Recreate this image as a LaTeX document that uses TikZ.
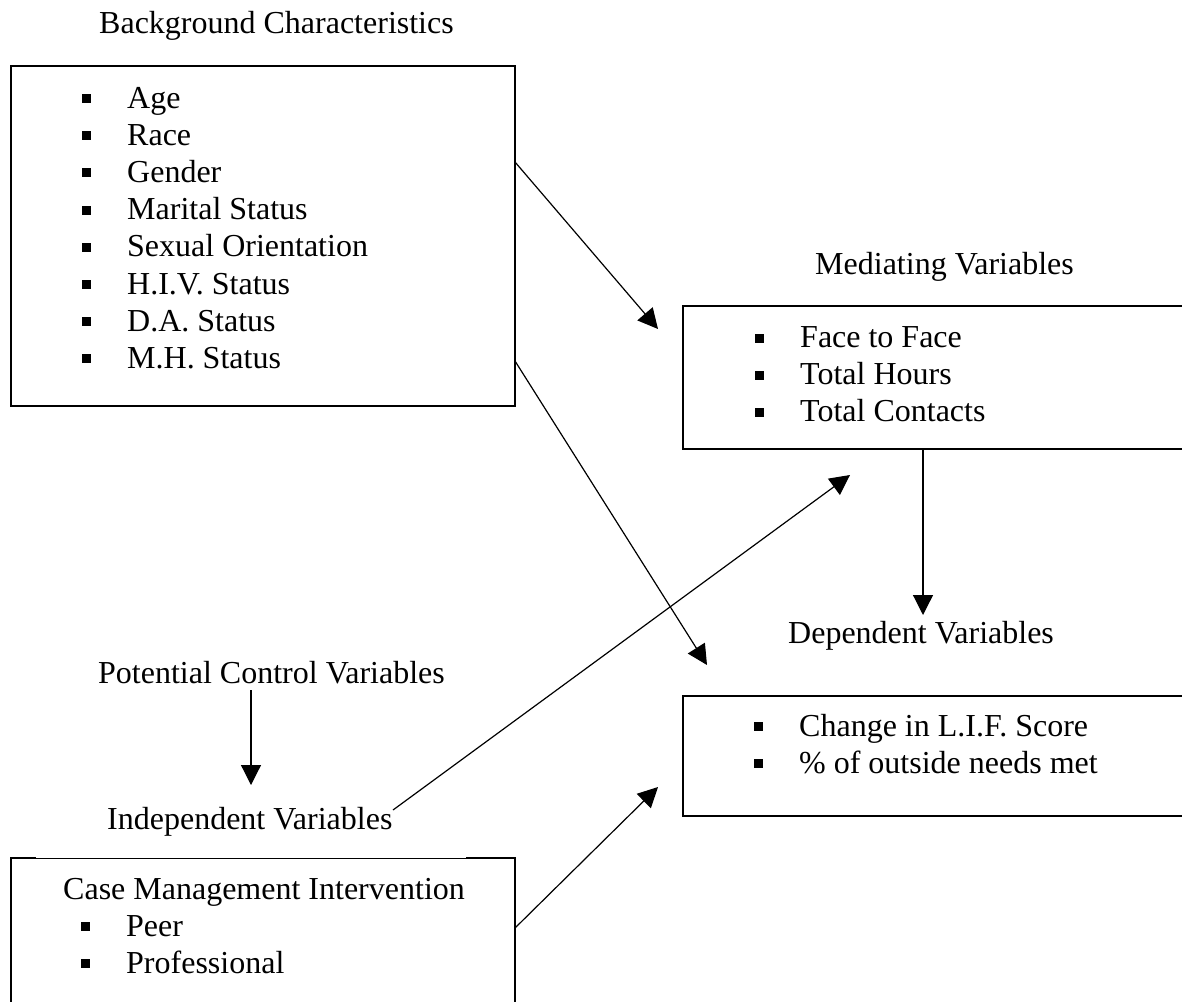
\documentclass[tikz,border=0pt]{standalone}
\usepackage{fontspec}
\setmainfont{Liberation Serif}
\usetikzlibrary{arrows.meta}
\newcommand{\sqb}{\rule[5pt]{9pt}{9pt}}
\newcommand{\itm}[1]{\makebox[45pt][l]{\sqb}#1}
\begin{document}
\begin{tikzpicture}[x=1pt,y=-1pt,
  box/.style={draw, line width=2pt, inner sep=0pt, rectangle},
  lbl/.style={anchor=base west, inner sep=0pt, font=\fontsize{32}{37.2}\selectfont},
  conn/.style={line width=1.2pt, -{Triangle[length=20pt,width=20pt]}}]
\useasboundingbox[fill=white] (0,0) rectangle (1182,1001);
\clip (0,0) rectangle (1182,1001);

% boxes
\node[box, minimum width=504pt, minimum height=340pt] (bgbox) at (263,236) {};
\node[box, minimum width=547pt, minimum height=143pt] (medbox) at (956.5,377.5) {};
\node[box, minimum width=547pt, minimum height=120pt] (depbox) at (956.5,756) {};
\node[box, minimum width=504pt, minimum height=182pt] (cmbox) at (263,949) {};
\draw[white, line width=2.6pt] (36,858) -- (466,858);
\draw[line width=0.9pt] (36,858.3) -- (466,858.3);

% titles
\node[lbl] (bgt) at (99,33) {Background Characteristics};
\node[lbl] (medt) at (815,274) {Mediating Variables};
\node[lbl] (dept) at (788,643) {Dependent Variables};
\node[lbl] (pcv) at (98,683) {Potential Control Variables};
\node[lbl] (ivt) at (107,829) {Independent Variables};

% lists
\node[lbl] (bglist) at (82,108) {\begin{tabular}[t]{@{}l@{}}
\itm{Age}\\ \itm{Race}\\ \itm{Gender}\\ \itm{Marital Status}\\
\itm{Sexual Orientation}\\ \itm{H.I.V. Status}\\ \itm{D.A. Status}\\ \itm{M.H. Status}
\end{tabular}};
\node[lbl] (medlist) at (755,347.5) {\begin{tabular}[t]{@{}l@{}}
\itm{Face to Face}\\ \itm{Total Hours}\\ \itm{Total Contacts}
\end{tabular}};
\node[lbl] (deplist) at (754,736) {\begin{tabular}[t]{@{}l@{}}
\itm{Change in L.I.F. Score}\\ \itm{\% of outside needs met}
\end{tabular}};
\node[lbl] (cmlist) at (63,899) {\begin{tabular}[t]{@{}l@{}}
Case Management Intervention\\
\hspace*{18pt}\itm{Peer}\\ \hspace*{18pt}\itm{Professional}
\end{tabular}};

% connector ends
\coordinate (a1s) at (515,162); \coordinate (a1e) at (658,329);
\coordinate (a2s) at (515,361); \coordinate (a2e) at (707,665);
\coordinate (a3s) at (923,449); \coordinate (a3e) at (923,615);
\coordinate (a4s) at (251,690); \coordinate (a4e) at (251,785);
\coordinate (a5s) at (393,810); \coordinate (a5e) at (850,475);
\coordinate (a6s) at (515,928); \coordinate (a6e) at (658,787);

\draw[conn] (a1s) -- (a1e);
\draw[conn] (a2s) -- (a2e);
\draw[conn] (a3s) -- (a3e);
\draw[conn] (a4s) -- (a4e);
\draw[conn] (a5s) -- (a5e);
\draw[conn] (a6s) -- (a6e);
\end{tikzpicture}
\end{document}
